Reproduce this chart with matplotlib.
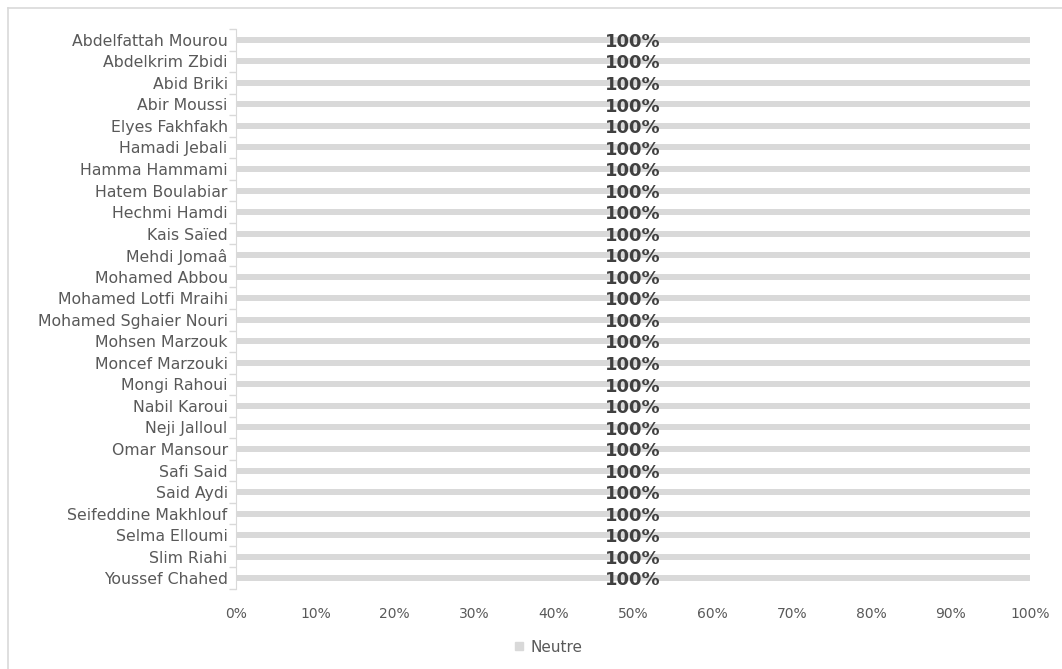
import matplotlib
matplotlib.use('Agg')
from matplotlib import pyplot as plt
from matplotlib.lines import Line2D
from matplotlib.patches import Patch

noms = ['Abdelfattah Mourou', 'Abdelkrim Zbidi', 'Abid Briki', 'Abir Moussi',
        'Elyes Fakhfakh', 'Hamadi Jebali', 'Hamma Hammami', 'Hatem Boulabiar',
        'Hechmi Hamdi', 'Kais Saïed', 'Mehdi Jomaâ', 'Mohamed Abbou',
        'Mohamed Lotfi Mraihi', 'Mohamed Sghaier Nouri', 'Mohsen Marzouk',
        'Moncef Marzouki', 'Mongi Rahoui', 'Nabil Karoui', 'Neji Jalloul',
        'Omar Mansour', 'Safi Said', 'Said Aydi', 'Seifeddine Makhlouf',
        'Selma Elloumi', 'Slim Riahi', 'Youssef Chahed']
neutre = [100] * len(noms)
xticks = [0, 10, 20, 30, 40, 50, 60, 70, 80, 90, 100]
xlabels = [f'{v}%' for v in xticks]

plt.rcParams['font.family'] = ['DejaVu Sans']
gris = '#595959'

fig = plt.figure(figsize=(10.62, 6.69), dpi=100)
ax = fig.add_axes([236/1062, 1-589/669, (1030-236)/1062, (589-29)/669])

y = list(range(len(noms)))
ax.barh(y, neutre, height=0.28, color='#D9D9D9', label='Neutre')
for yi, v in zip(y, neutre):
    ax.text(v/2, yi + 0.1, f'{v}%', ha='center', va='center',
            fontsize=13, fontweight='bold', color='#404040')

ax.set_ylim(len(noms) - 0.5, -0.5)
ax.set_xlim(0, 100)
ax.set_yticks(y)
ax.set_yticklabels(noms, fontsize=11.3, color=gris)
ax.set_yticks([i - 0.5 for i in range(len(noms) + 1)], minor=True)
ax.tick_params(axis='y', which='major', length=0, pad=6)
ax.tick_params(axis='y', which='minor', length=5, color='#D9D9D9', width=1)
ax.set_xticks(xticks)
ax.set_xticklabels(xlabels, fontsize=10, color=gris)
ax.tick_params(axis='x', length=0, pad=13)
for s in ['top', 'right', 'bottom']:
    ax.spines[s].set_visible(False)
ax.spines['left'].set_color('#D9D9D9')

# cadre du graphique
fig.add_artist(Line2D([8/1062, 1], [1-8/669, 1-8/669], color='#D9D9D9', lw=1.2))
fig.add_artist(Line2D([8/1062, 8/1062], [0, 1-8/669], color='#D9D9D9', lw=1.2))

fig.legend(handles=[Patch(color='#D9D9D9', label='Neutre')], loc='center',
           bbox_to_anchor=(549/1062, 1-647/669), frameon=False, fontsize=11,
           labelcolor=gris, handlelength=0.5, handleheight=0.5, handletextpad=0.5)

fig.savefig('out.png', dpi=100)
